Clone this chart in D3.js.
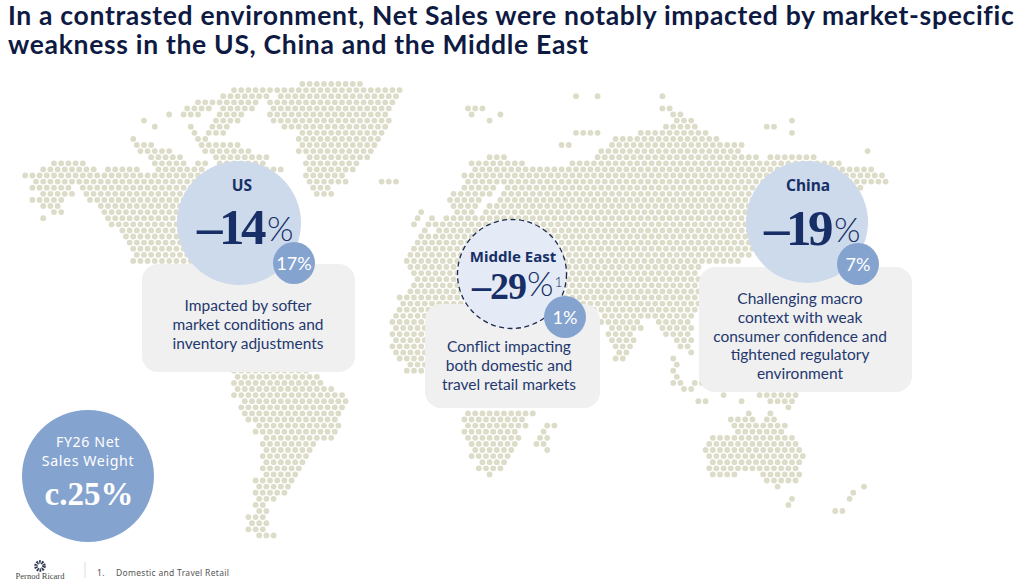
<!DOCTYPE html>
<html>
<head>
<meta charset="utf-8">
<title>Net Sales by market</title>
<script src="https://cdn.jsdelivr.net/npm/d3@7"></script>
<style>
	html, body { margin: 0; padding: 0; background: #fff; }
	svg { display: block; }
</style>
</head>
<body>
<svg id="chart"></svg>
<script>
const titleLines = [
	'In a contrasted environment, Net Sales were notably impacted by market-specific',
	'weakness in the US, China and the Middle East',
];

// the three markets
const regions = ['US', 'Middle East', 'China'];
const changes = [-14, -29, -19];
const weights = [17, 1, 7];
const notes = [
	['Impacted by softer', 'market conditions and', 'inventory adjustments'],
	['Conflict impacting', 'both domestic and', 'travel retail markets'],
	['Challenging macro', 'context with weak', 'consumer confidence and', 'tightened regulatory', 'environment'],
];
const weightLabel = ['FY26 Net', 'Sales Weight'];
const weightTotal = 'c.25%';
const footnote = 'Domestic and Travel Retail';

// land cells of the dotted map: [row, first column, last column]
const greenland = [
	[0, 42, 50], [1, 38, 55.5], [2, 39, 55], [3, 38, 55], [4, 38, 54], [5, 38, 54], [6, 38, 54],
	[7, 40, 54], [8, 42, 53], [9, 42, 53], [10, 42, 52], [11, 42, 52], [12, 43, 51], [13, 43, 50],
	[14, 43, 49], [15, 43, 48], [16, 43, 48], [17, 44, 46], [18, 44, 46], [16, 53, 55],
];
const northAmerica = [
	[1, 33, 37], [2, 31, 37], [3, 28, 36], [4, 26, 29], [4, 31, 35], [5, 24, 24], [5, 26, 28],
	[5, 31, 34], [6, 20, 20], [6, 30, 33], [7, 22, 22], [7, 27, 27], [7, 30, 32], [8, 27, 27],
	[8, 29, 31], [9, 19, 19], [9, 28, 29], [10, 19, 21], [10, 28, 33], [11, 20, 24], [11, 29, 35],
	[12, 21, 25], [12, 30, 37], [13, 8, 12], [13, 22, 26], [13, 28, 29], [13, 31, 37], [14, 6, 13],
	[14, 15, 19], [14, 22, 28], [14, 32, 38], [14, 39, 39], [15, 4, 30], [15, 32, 38], [16, 5, 27],
	[17, 5, 10], [17, 12, 27], [18, 6, 10], [18, 12, 27], [19, 5, 9], [19, 13, 27], [20, 6, 8],
	[20, 14, 27], [21, 8, 9], [21, 15, 27], [22, 6, 6], [22, 15, 27], [23, 16, 27], [24, 17, 27],
	[25, 18, 27], [26, 18, 27], [27, 19, 27], [28, 19, 28], [29, 19, 29],
];
const southAmerica = [
	[47, 33, 43], [48, 33, 44], [49, 33, 45], [50, 33, 46.5], [51, 33, 48], [52, 34, 48], [53, 34, 47.5],
	[54, 34, 47], [55, 35, 47], [56, 36, 47], [57, 36, 46.5], [58, 37, 46], [59, 37, 44], [60, 37, 43],
	[61, 37, 43], [62, 37, 42], [63, 37, 42], [64, 37, 41.5], [65, 36, 41], [66, 36, 40], [67, 36, 39.5],
	[68, 36, 38], [69, 36, 37], [70, 36, 37], [71, 35, 37], [72, 35, 37], [73, 35, 37], [74, 36, 38],
];
const eurasia = [
	[4, 65, 67], [5, 66, 66], [5, 70, 70], [6, 68, 68], [2, 80, 80], [2, 83, 83], [8, 80, 83],
	[10, 78, 79], [2, 92, 92], [4, 92, 93], [7, 107, 108], [6, 110, 110], [8, 110, 110], [11, 121, 121],
	[5, 94, 95], [6, 94, 96], [7, 93, 97], [8, 89, 98], [9, 86, 100], [10, 85, 103], [11, 84, 103],
	[12, 68, 70], [12, 83, 105], [12, 107, 113], [13, 66, 73], [13, 80, 117], [14, 66, 76], [14, 77, 121],
	[15, 65, 122.5], [16, 65, 123], [17, 64.5, 69], [17, 71, 120], [18, 63, 68], [18, 70, 118],
	[19, 62.5, 67], [19, 70, 118], [20, 63, 66], [20, 68, 118], [21, 59, 59], [21, 64, 66], [21, 68, 118],
	[22, 58, 58], [22, 60, 60], [22, 62, 67], [22, 68, 118], [23, 58, 58], [23, 60, 105], [24, 59, 59],
	[24, 61, 105], [25, 59, 105], [26, 58, 105], [27, 58, 105], [28, 57, 104], [29, 57, 103], [30, 57, 97],
	[31, 57.5, 97], [32, 58, 97], [33, 58, 97], [34, 57, 97], [35, 56, 97], [36, 56, 97], [37, 56, 97],
	[38, 84, 91], [38, 92, 96], [39, 84, 89], [39, 92, 96], [40, 85, 89], [40, 92, 96], [41, 85, 88],
	[41, 93, 96], [42, 85, 88], [42, 94, 96], [43, 86, 88], [43, 95, 96], [44, 86, 87], [44, 96, 96],
	[45, 86, 87], [45, 94, 94], [46, 94, 94], [47, 94, 94], [48, 94, 94], [49, 94, 95], [49, 97, 98],
	[50, 95, 96], [51, 101, 101], [51, 106, 111], [52, 97, 98], [52, 103, 103], [52, 107, 110], [53, 110, 110],
];
const africa = [
	[38, 55.5, 75], [39, 55, 75], [40, 55, 75], [41, 55, 75], [42, 55, 75], [43, 55, 75], [44, 55.5, 75],
	[45, 56, 75], [46, 57, 75], [47, 57, 75], [54, 65, 74], [55, 65, 73], [56, 65, 73], [57, 65, 72],
	[58, 65, 72], [59, 66, 71.5], [60, 66, 71], [61, 66, 71], [62, 67, 70.5], [63, 67, 70], [64, 68, 68],
	[56, 76, 77], [57, 76, 76], [58, 75.5, 76.5], [59, 75, 76], [60, 76, 76],
];
const oceania = [
	[54, 104.5, 104.5], [54, 107.5, 107.5], [55, 102, 105], [55, 107, 108], [56, 102, 109], [57, 103, 109],
	[58, 99, 110], [59, 99, 110.5], [60, 98, 111.5], [61, 99, 111.5], [62, 99, 111], [63, 99, 104],
	[63, 105, 111], [64, 99, 102], [64, 106, 111], [65, 107, 110.5], [66, 108, 108], [68, 110, 110],
	[69, 109.5, 109.5], [66, 120, 120], [67, 119, 119], [68, 118.5, 118.5], [70, 116, 117],
];

const width = 1020;
const height = 584;
const navy = '#172f66';
const midBlue = '#85a3cf';
const card = '#f0f0f0';
const valueFont = '"Liberation Serif", serif';
const textFont = 'Lato, sans-serif';
const labelFont = '"Noto Sans", sans-serif';

// where each callout sits on the page
const layout = [
	{ cx: 239, cy: 223, r: 62, fill: '#cddaeb', labelY: 191, labelSize: 15.5, valueX: 197, valueY: 244, valueSize: 51, valueTrack: -3.5, pctSize: 34, pctGap: 4,
		smallX: 294, smallY: 263, card: [142, 264, 213, 108], noteX: 248, noteY: 311 },
	{ cx: 512, cy: 274, r: 54.5, fill: '#e4ebf6', labelY: 262, labelSize: 15, valueX: 472, valueY: 299, valueSize: 38, valueTrack: -1, pctSize: 34, pctGap: 1,
		smallX: 565, smallY: 317, card: [425, 304, 175, 104], noteX: 509, noteY: 352 },
	{ cx: 807, cy: 222, r: 61, fill: '#cddaeb', labelY: 191, labelSize: 15.5, valueX: 764, valueY: 245, valueSize: 51, valueTrack: -3.5, pctSize: 34, pctGap: 4,
		smallX: 858, smallY: 264, card: [699, 267, 213, 125], noteX: 800, noteY: 304 },
];

const svg = d3.select('#chart').attr('width', width).attr('height', height);

// dotted map, a staggered grid of land cells
const x = d3.scaleLinear().domain([0, 140]).range([0, 1008]);
const y = d3.scaleLinear().domain([0, 75]).range([84, 541.5]);
const land = [greenland, northAmerica, southAmerica, eurasia, africa, oceania].flat();
const cells = land.flatMap(([row, from, to]) => {
	const shift = row % 2 ? 0.5 : 0;
	return d3
		.range(Math.floor(from) - 1, Math.ceil(to) + 2)
		.map((c) => ({ row, col: c + shift }))
		.filter((d) => d.col >= from - 0.5 && d.col < to + 0.5);
});

svg
	.append('g')
	.attr('fill', '#dcdcc8')
	.selectAll('circle')
	.data(cells)
	.join('circle')
	.attr('cx', (d) => x(d.col))
	.attr('cy', (d) => y(d.row))
	.attr('r', 2.9);

// title
svg
	.append('g')
	.attr('font-family', textFont)
	.attr('font-weight', 700)
	.attr('font-size', 26.5)
	.attr('letter-spacing', 0.68)
	.attr('fill', '#0e1a42')
	.selectAll('text')
	.data(titleLines)
	.join('text')
	.attr('x', 8)
	.attr('y', (d, i) => 25 + i * 29)
	.text((d) => d);

// callouts
regions.forEach((region, i) => {
	const p = layout[i];
	const g = svg.append('g');

	g.append('rect')
		.attr('x', p.card[0])
		.attr('y', p.card[1])
		.attr('width', p.card[2])
		.attr('height', p.card[3])
		.attr('rx', 16)
		.attr('fill', card);

	const big = g.append('circle').attr('cx', p.cx).attr('cy', p.cy).attr('r', p.r).attr('fill', p.fill);
	if (region === 'Middle East') {
		big.attr('stroke', '#1b2a50').attr('stroke-width', 1.3).attr('stroke-dasharray', '5 3.5');
	}

	g.append('text')
		.attr('x', p.cx + (i === 0 ? 3 : 1))
		.attr('y', p.labelY)
		.attr('text-anchor', 'middle')
		.attr('font-family', labelFont)
		.attr('font-weight', 700)
		.attr('font-size', p.labelSize)
		.attr('fill', navy)
		.text(region);

	const value = g.append('text').attr('x', p.valueX).attr('y', p.valueY).attr('fill', navy);
	value
		.append('tspan')
		.attr('font-family', valueFont)
		.attr('font-weight', 700)
		.attr('font-size', p.valueSize)
		.attr('letter-spacing', p.valueTrack)
		.text('–' + Math.abs(changes[i]));
	value
		.append('tspan')
		.attr('font-family', textFont)
		.attr('font-weight', 300)
		.attr('font-size', p.pctSize)
		.attr('dx', p.pctGap)
		.attr('dy', -3)
		.text('%');
	if (region === 'Middle East') {
		value
			.append('tspan')
			.attr('font-family', textFont)
			.attr('font-weight', 300)
			.attr('font-size', 14)
			.attr('dx', 1)
			.attr('dy', -9)
			.text('1');
	}

	g.append('circle').attr('cx', p.smallX).attr('cy', p.smallY).attr('r', 21).attr('fill', midBlue);
	g.append('text')
		.attr('x', p.smallX)
		.attr('y', p.smallY + 6.5)
		.attr('text-anchor', 'middle')
		.attr('font-family', textFont)
		.attr('font-size', 18)
		.attr('fill', '#fff')
		.text(weights[i] + '%');

	g.append('g')
		.attr('font-family', textFont)
		.attr('font-size', 15.5)
		.attr('fill', '#24386f')
		.attr('text-anchor', 'middle')
		.selectAll('text')
		.data(notes[i])
		.join('text')
		.attr('x', p.noteX)
		.attr('y', (d, j) => p.noteY + j * 18.8)
		.text((d) => d);
});

// net sales weight badge
const badge = svg.append('g').attr('text-anchor', 'middle').attr('fill', '#fff');
badge.append('circle').attr('cx', 88).attr('cy', 476).attr('r', 66).attr('fill', midBlue);
badge
	.append('g')
	.attr('font-family', labelFont)
	.attr('font-size', 14.2)
	.attr('letter-spacing', 0.6)
	.selectAll('text')
	.data(weightLabel)
	.join('text')
	.attr('x', 88)
	.attr('y', (d, i) => 446.5 + i * 19.6)
	.text((d) => d);
badge
	.append('text')
	.attr('x', 89)
	.attr('y', 505)
	.attr('font-family', valueFont)
	.attr('font-weight', 700)
	.attr('font-size', 33)
	.text(weightTotal);

// footer
const footer = svg.append('g');
footer
	.append('circle')
	.attr('cx', 40)
	.attr('cy', 566)
	.attr('r', 4)
	.attr('fill', 'none')
	.attr('stroke', '#2b3550')
	.attr('stroke-width', 3.5)
	.attr('stroke-dasharray', '1.6 0.9');
footer
	.append('text')
	.attr('x', 40)
	.attr('y', 578.5)
	.attr('text-anchor', 'middle')
	.attr('font-family', valueFont)
	.attr('font-size', 8.5)
	.attr('fill', '#444')
	.text('Pernod Ricard');
footer.append('line').attr('x1', 85).attr('x2', 85).attr('y1', 562).attr('y2', 578).attr('stroke', '#ddd');
footer
	.append('g')
	.attr('font-family', labelFont)
	.attr('font-size', 8.5)
	.attr('fill', '#555')
	.attr('letter-spacing', 0.3)
	.call((g) => g.append('text').attr('x', 97).attr('y', 576).text('1.'))
	.call((g) => g.append('text').attr('x', 116).attr('y', 576).text(footnote));
</script>
</body>
</html>
